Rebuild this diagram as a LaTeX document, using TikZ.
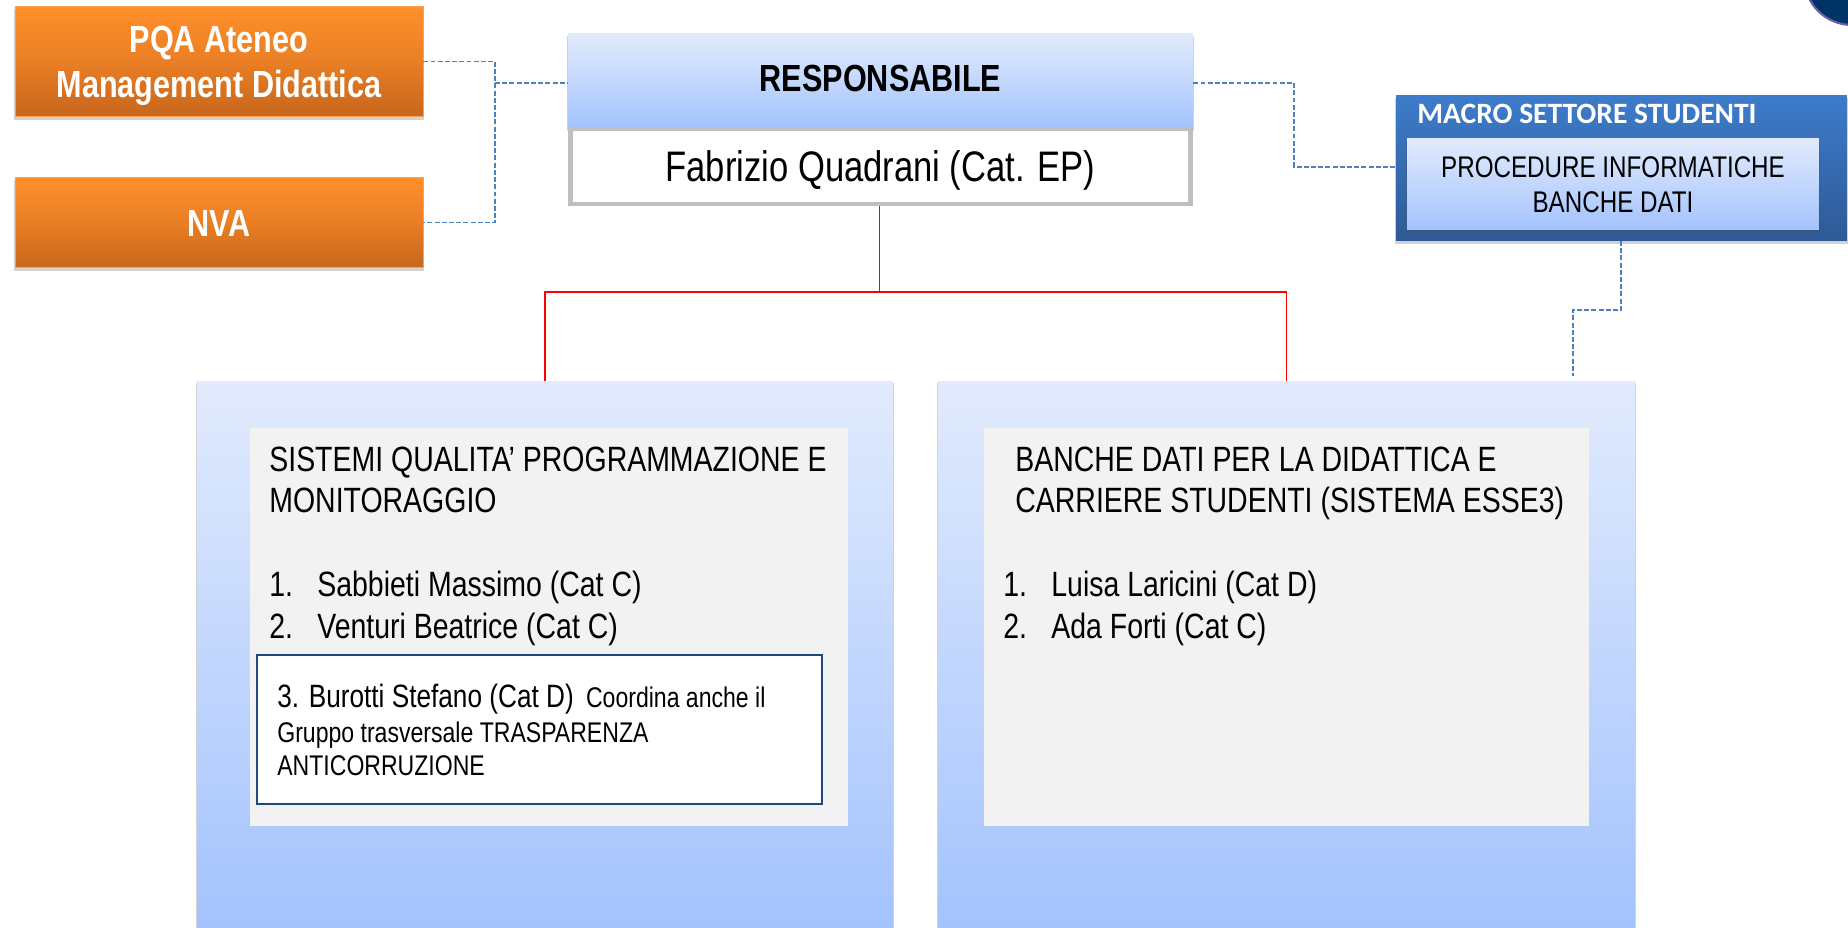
\documentclass[tikz,border=0pt]{standalone}
\usepackage{fontspec}
\setmainfont[FakeStretch=0.81]{Liberation Sans}
\newfontfamily\macrofont{Carlito}
\usetikzlibrary{shadows}
\usetikzlibrary{positioning}
\definecolor{dashColor}{HTML}{4F81BD}
\definecolor{lineColor}{HTML}{FF0000}
\definecolor{orangeTop}{HTML}{FF8F2B}
\definecolor{orangeBot}{HTML}{C8661C}
\definecolor{paleTop}{HTML}{E2EBFD}
\definecolor{paleBot}{HTML}{A3C3FD}
\definecolor{macroTop}{HTML}{3D7CCB}
\definecolor{macroBot}{HTML}{2F5996}
\definecolor{greyBox}{HTML}{F2F2F2}
\definecolor{frameColor}{HTML}{1F497D}
\definecolor{logoColor}{HTML}{003366}
\definecolor{logoEdge}{HTML}{6A5FA8}
\newcommand{\lowered}[2]{\raisebox{-#1}[0pt][0pt]{#2}}
\tikzset{softshadow/.style={drop shadow={shadow xshift=0pt,shadow yshift=-1.8pt,shadow scale=1.004,opacity=.25,fill=black!70}}}
\tikzset{orangebox/.style={rectangle,draw=orangeTop!85!white,thin,top color=orangeTop,bottom color=orangeBot,middle color=orangeTop!60!orangeBot,softshadow,text=white,font=\fontsize{21.5}{25.6}\selectfont\bfseries,align=center,inner sep=0pt}}
\tikzset{palebox/.style={rectangle,top color=paleTop,bottom color=paleBot,inner sep=0pt,align=center}}
\tikzset{greybox/.style={rectangle,fill=greyBox,inner sep=0pt}}
\tikzset{link/.style={dashColor,line width=.7pt,dash pattern=on 2.8pt off 1.3pt}}
\tikzset{branch/.style={lineColor,line width=1.1pt}}
\tikzset{listtext/.style={anchor=base west,inner sep=0pt,font=\fontsize{20}{23}\selectfont}}
\tikzset{smalltext/.style={anchor=base west,inner sep=0pt,font=\fontsize{16.2}{19}\selectfont}}
\begin{document}
\begin{tikzpicture}[x=0.02cm,y=-0.02cm]
				\useasboundingbox (0,0) rectangle (1848,928);
				% upper left
				\node [orangebox,minimum width=8.16cm,minimum height=2.2cm] (pqa) at (219,61.5) {\lowered{20.4pt}{\parbox[b]{8cm}{\centering PQA Ateneo\\Management Didattica}}};
				\node [orangebox,minimum width=8.16cm,minimum height=1.8cm] (nva) at (219,222.5) {\lowered{7.7pt}{NVA}};
				% responsabile
				\node [palebox,softshadow,minimum width=12.5cm,minimum height=1.88cm,font=\fontsize{21.5}{24}\selectfont\bfseries] (resp) at (880.5,80.5) {\lowered{6pt}{RESPONSABILE}};
				\node [rectangle,draw=black!25,line width=2.8pt,fill=white,minimum width=12.4cm,minimum height=1.5cm,inner sep=0pt,font=\fontsize{24.3}{28}\selectfont] (name) at (880.5,166.5) {\lowered{8.7pt}{Fabrizio Quadrani (Cat. EP)}};
				% macro settore
				\node [rectangle,top color=macroTop,bottom color=macroBot,softshadow,minimum width=9.02cm,minimum height=2.92cm,inner sep=0pt] (macro) at (1621.5,168) {};
				\node [right,text=white,inner sep=0pt,font=\macrofont\fontsize{16.8}{20}\selectfont\bfseries] (macrotitle) at (1417,114) {MACRO SETTORE STUDENTI};
				\node [palebox,softshadow,minimum width=8.24cm,minimum height=1.84cm,font=\fontsize{17}{19.9}\selectfont] (proc) at (1613,184) {\lowered{16.1pt}{\parbox[b]{8cm}{\centering PROCEDURE INFORMATICHE\\BANCHE DATI}}};
				% the two areas
				\node [palebox,softshadow,minimum width=13.92cm,minimum height=10.94cm] (areaA) at (545,654.5) {};
				\node [palebox,softshadow,minimum width=13.94cm,minimum height=10.94cm] (areaB) at (1286.5,654.5) {};
				\node [greybox,minimum width=11.96cm,minimum height=7.96cm] (greyA) at (549,627) {};
				\node [greybox,minimum width=12.1cm,minimum height=7.96cm] (greyB) at (1286.5,627) {};
				\node [listtext] (titleA) at (269,472) {SISTEMI QUALITA' PROGRAMMAZIONE E};
				\node [listtext] (titleAa) at (269,513) {MONITORAGGIO};
				\node [listtext] (oneA) at (269,596.5) {1.};
				\node [listtext] (sabbieti) at (317,596.5) {Sabbieti Massimo (Cat C)};
				\node [listtext] (twoA) at (269,638) {2.};
				\node [listtext] (venturi) at (317,638) {Venturi Beatrice (Cat C)};
				\node [rectangle,draw=frameColor,line width=1.1pt,fill=white,minimum width=11.3cm,minimum height=2.98cm] (frame) at (539.5,729.5) {};
				\node [smalltext] (burotti) at (277,707) {{\fontsize{18.4}{22}\selectfont 3. Burotti Stefano (Cat D)}\hspace{7pt}Coordina anche il};
				\node [smalltext] (gruppo) at (277,742.5) {Gruppo trasversale TRASPARENZA};
				\node [smalltext] (anti) at (277,775) {ANTICORRUZIONE};
				\node [listtext] (titleB) at (1015,472) {BANCHE DATI PER LA DIDATTICA E};
				\node [listtext] (titleBa) at (1015,513) {CARRIERE STUDENTI (SISTEMA ESSE3)};
				\node [listtext] (oneB) at (1003,596.5) {1.};
				\node [listtext] (laricini) at (1051,596.5) {Luisa Laricini (Cat D)};
				\node [listtext] (twoB) at (1003,638) {2.};
				\node [listtext] (forti) at (1051,638) {Ada Forti (Cat C)};
				% connectors
				\coordinate (joinL) at (495,83);
				\coordinate (joinR) at (1294,83);
				\coordinate (macroin) at (1397,167);
				\coordinate (macroout) at (1621,241);
				\coordinate (areaBin) at (1573,376);
				\coordinate (fork) at (879.5,292);
				\draw [link] (pqa.east) -- (joinL |- pqa.east) -- (joinL |- nva.east) -- (nva.east);
				\draw [link,line width=1pt] (joinL) -- (resp.west |- joinL);
				\draw [link] (resp.east |- joinR) -- (joinR) -- (joinR |- macroin) -- (macroin);
				\draw [link] (macroout) -- (1621,310) -- (1573,310) -- (areaBin);
				\draw [branch] (name.south -| fork) -- (fork);
				\draw [branch] (areaA.north) -- (areaA.north |- fork) -- (areaB.north |- fork) -- (areaB.north);
				% logo in the corner
				\fill [logoColor,draw=logoEdge,line width=1.2pt] (1852,-23) circle [radius=48];
				\end{tikzpicture}
\end{document}
